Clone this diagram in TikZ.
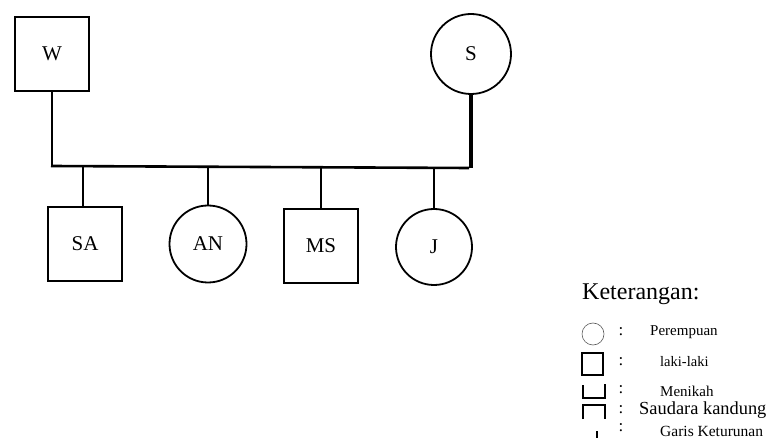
\documentclass[tikz,border=0pt]{standalone}
\usepackage{fontspec}
\setmainfont{Liberation Serif}
\begin{document}
\begin{tikzpicture}[x=1pt,y=-1pt,
  male/.style={draw,rectangle,line width=2.4pt,minimum size=74pt,inner sep=0pt,font=\fontsize{21}{23}\selectfont},
  female/.style={draw,circle,line width=1.8pt,inner sep=0pt,font=\fontsize{21}{23}\selectfont},
  link/.style={line width=2.6pt},
  lab/.style={anchor=west,inner sep=0pt},
  colon/.style={inner sep=0pt,font=\fontsize{17}{19}\selectfont}]
\useasboundingbox (0,0) rectangle (768,438);
% parents
\node[male] (W) at (52,54) {W};
\node[female,minimum size=80pt] (S) at (471,54) {S};
% bar
\coordinate (L) at (51,166);
\coordinate (R) at (469,168);
\draw[link] (W.south) -- (W.south |- L);
\draw[line width=3.6pt] (S.south) -- (S.south |- R);
\draw[link] (L) -- (R);
% children
\node[male] (SA) at (85,244) {SA};
\node[female,minimum size=77pt] (AN) at (208,244) {AN};
\node[male] (MS) at (321,246) {MS};
\node[female,minimum size=76pt] (J) at (434,247) {J};
\coordinate (cSA) at (83,167);
\coordinate (cAN) at (208,167);
\coordinate (cMS) at (321,167);
\coordinate (cJ) at (434,168);
\draw[link] (cSA) -- (cSA |- SA.north);
\draw[link] (cAN) -- (cAN |- AN.north);
\draw[link] (cMS) -- (cMS |- MS.north);
\draw[link] (cJ) -- (cJ |- J.north);
% legend
\node[lab,font=\fontsize{24}{26}\selectfont] (K) at (582,294) {Keterangan:};
\draw[line width=0.6pt,gray!70!black] (593,334) circle (11);
\draw[line width=1.2pt] (582,353) rectangle (603,375);
\draw[line width=1.2pt] (583,385) -- (583,398) -- (605,398) -- (605,384);
\draw[line width=1.2pt] (583,419) -- (583,405) -- (605,405) -- (605,419);
\draw[line width=1.4pt] (597,431) -- (597,440);
\node[colon] (c1) at (621,332) {:};
\node[colon] (c2) at (621,362) {:};
\node[colon] (c3) at (621,390) {:};
\node[colon] (c4) at (621,410) {:};
\node[colon] (c5) at (621,428) {:};
\node[lab,font=\fontsize{15}{17}\selectfont] (t1) at (650,332) {Perempuan};
\node[lab,font=\fontsize{14.5}{17}\selectfont] (t2) at (660,362) {laki-laki};
\node[lab,font=\fontsize{15}{17}\selectfont] (t3) at (660,391) {Menikah};
\node[lab,font=\fontsize{18.4}{20}\selectfont] (t4) at (639,410) {Saudara kandung};
\node[lab,font=\fontsize{15.5}{17}\selectfont] (t5) at (660,431) {Garis Keturunan};
\end{tikzpicture}
\end{document}
